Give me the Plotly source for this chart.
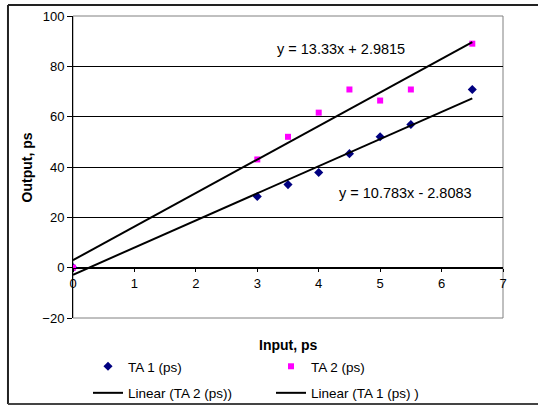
import plotly.graph_objects as go

# Data
x_in = [0, 3, 3.5, 4, 4.5, 5, 5.5, 6.5]
ta1 = [0, 28.3, 33, 37.8, 45.3, 52, 56.9, 70.8]
ta2 = [0, 43, 52, 61.6, 70.8, 66.4, 70.8, 89]
fit_ta2 = (13.33, 2.9815)
fit_ta1 = (10.783, -2.8083)
fit_x = [0, 6.5]
x_ticks = [0, 1, 2, 3, 4, 5, 6, 7]
y_ticks = [-20, 0, 20, 40, 60, 80, 100]

FONT = "Liberation Sans, Arial, sans-serif"

fig = go.Figure()
fig.add_trace(go.Scatter(x=x_in, y=ta1, mode="markers", name="TA 1 (ps)", legend="legend",
                         legendgroup="a",
                         marker=dict(symbol="diamond", color="#000080", size=7)))
fig.add_trace(go.Scatter(x=x_in, y=ta2, mode="markers", name="TA 2 (ps)", legend="legend2",
                         legendgroup="b",
                         marker=dict(symbol="square", color="#FF00FF", size=6)))
fig.add_trace(go.Scatter(x=fit_x, y=[fit_ta2[0] * v + fit_ta2[1] for v in fit_x],
                         mode="lines", name="Linear (TA 2 (ps))", legend="legend",
                         legendgroup="c",
                         line=dict(color="black", width=2)))
fig.add_trace(go.Scatter(x=fit_x, y=[fit_ta1[0] * v + fit_ta1[1] for v in fit_x],
                         mode="lines", name="Linear (TA 1 (ps) )", legend="legend2",
                         legendgroup="d",
                         line=dict(color="black", width=2)))

fig.add_annotation(x=4.36, y=86.8, xref="x", yref="y",
                   text="y = 13.33x + 2.9815", showarrow=False,
                   font=dict(family=FONT, size=14.5, color="black"))
fig.add_annotation(x=5.42, y=29.8, xref="x", yref="y",
                   text="y = 10.783x - 2.8083", showarrow=False,
                   font=dict(family=FONT, size=14.5, color="black"))

# plot area border (gray)
fig.add_shape(type="rect", xref="paper", yref="paper", x0=0, y0=0, x1=1, y1=1,
              line=dict(color="#808080", width=1), layer="below")
# chart area border (top, left, bottom only; right side is off-page)
bx0, by0, by1, bx1 = -0.1512, -0.2848, 1.0364, 1.3
for (a, b, c, d, col) in [(bx0, by1, bx1, by1, "#222222"),
                          (bx0, by0, bx0, by1, "#222222"),
                          (bx0, by0, bx1, by0, "#444444")]:
    fig.add_shape(type="line", xref="paper", yref="paper", x0=a, y0=b, x1=c, y1=d,
                  line=dict(color=col, width=2))

leg_common = dict(orientation="v", xanchor="left", yanchor="top",
                  xref="container", yref="container",
                  font=dict(family=FONT, size=13.5, color="black"),
                  bgcolor="rgba(0,0,0,0)", itemwidth=30, tracegroupgap=6)

fig.update_layout(
    width=538, height=406,
    margin=dict(l=73, r=35, t=16, b=88, autoexpand=False),
    paper_bgcolor="white", plot_bgcolor="white",
    font=dict(family=FONT, size=13, color="black"),
    showlegend=True,
    legend=dict(x=88 / 538, y=1 - 351 / 406, **leg_common),
    legend2=dict(x=271 / 538, y=1 - 351 / 406, **leg_common),
    xaxis=dict(range=[0, 7], tickvals=x_ticks, showgrid=False, zeroline=False,
               showline=True, linecolor="black", linewidth=1,
               ticks="outside", ticklen=3, tickcolor="black",
               anchor="free", position=50 / 302, automargin=False,
               tickfont=dict(family=FONT, size=13)),
    yaxis=dict(range=[-20, 100], tickvals=y_ticks, showgrid=True,
               gridcolor="black", gridwidth=1, zeroline=False,
               showline=True, linecolor="black", linewidth=1,
               ticks="outside", ticklen=5, tickcolor="black", automargin=False,
               tickfont=dict(family=FONT, size=13)),
)
fig.add_annotation(x=0.5, y=-0.055, xref="paper", yref="paper", yanchor="top",
                   xanchor="center",
                   text="<b>Input, ps</b>", showarrow=False,
                   font=dict(family=FONT, size=14))
fig.add_annotation(x=-0.106, y=0.5, xref="paper", yref="paper",
                   xanchor="center", yanchor="middle",
                   text="<b>Output, ps</b>", showarrow=False, textangle=-90,
                   font=dict(family=FONT, size=14))

fig.write_html("out.html")
